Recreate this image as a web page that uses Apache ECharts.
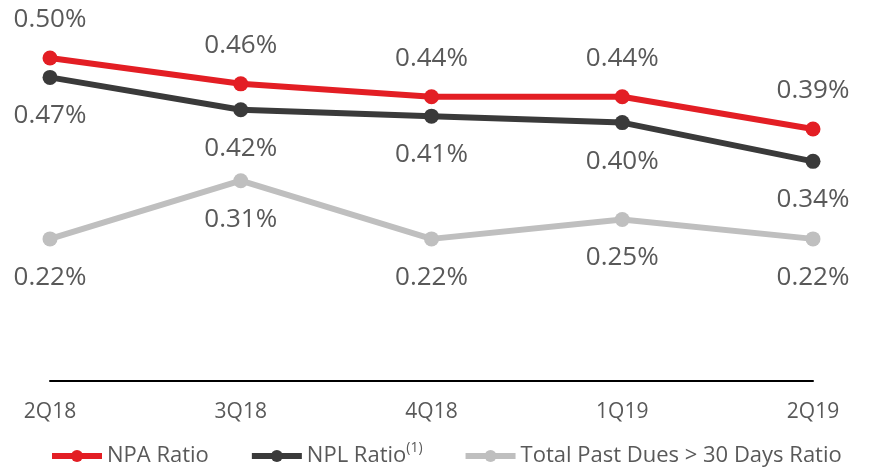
<!DOCTYPE html>
<html>
<head>
<meta charset="utf-8">
<script src="https://cdn.jsdelivr.net/npm/echarts@6/dist/echarts.min.js"></script>
<style>
  html, body { margin: 0; padding: 0; background: #fff; }
  #chart { width: 871px; height: 473px; }
</style>
</head>
<body>
<div id="chart"></div>
<script>
// quarters on the x axis
var quarters = ['2Q18', '3Q18', '4Q18', '1Q19', '2Q19'];
// ratios in percent
var npaRatio = [0.50, 0.46, 0.44, 0.44, 0.39];
var nplRatio = [0.47, 0.42, 0.41, 0.40, 0.34];
var pastDuesRatio = [0.22, 0.31, 0.22, 0.25, 0.22];

var font = 'Open Sans';

function makeSeries(name, data, color, labelPos) {
    return {
        name: name,
        type: 'line',
        data: data,
        symbol: 'circle',
        symbolSize: 15,
        lineStyle: { color: color, width: 6 },
        itemStyle: { color: color },
        label: {
            show: true,
            position: labelPos,
            distance: 17,
            fontFamily: font,
            fontSize: 26,
            lineHeight: 28,
            color: '#595959',
            formatter: function (p) { return p.value.toFixed(2) + '%'; }
        },
        emphasis: { disabled: true }
    };
}

var chart = echarts.init(document.getElementById('chart'));
var option = {
    animation: false,
    grid: { left: 50, right: 58, top: 58, bottom: 92, containLabel: false },
    legend: {
        bottom: 1,
        left: 44,
        itemWidth: 50,
        itemHeight: 15,
        itemGap: 40,
        lineStyle: { width: 6 },
        textStyle: {
            fontFamily: font,
            fontSize: 22,
            color: '#595959',
            rich: {
                sup: { fontFamily: font, fontSize: 14, color: '#595959', verticalAlign: 'top', padding: [0, 0, 16, 0] }
            }
        },
        formatter: function (name) {
            if (name === 'NPL Ratio') return 'NPL Ratio{sup|(1)}';
            return name;
        },
        data: ['NPA Ratio', 'NPL Ratio', 'Total Past Dues > 30 Days Ratio']
    },
    xAxis: {
        type: 'category',
        data: quarters,
        boundaryGap: false,
        axisLine: { lineStyle: { color: '#000', width: 2 } },
        axisTick: { show: false },
        axisLabel: { fontFamily: font, fontSize: 21, color: '#595959', margin: 21 }
    },
    yAxis: {
        type: 'value',
        min: 0,
        max: 0.5,
        show: false
    },
    series: [
        makeSeries('NPA Ratio', npaRatio, '#E31E24', 'top'),
        makeSeries('NPL Ratio', nplRatio, '#3A3A3A', 'bottom'),
        makeSeries('Total Past Dues > 30 Days Ratio', pastDuesRatio, '#BFBFBF', 'bottom')
    ]
};
chart.setOption(option);
</script>
</body>
</html>
